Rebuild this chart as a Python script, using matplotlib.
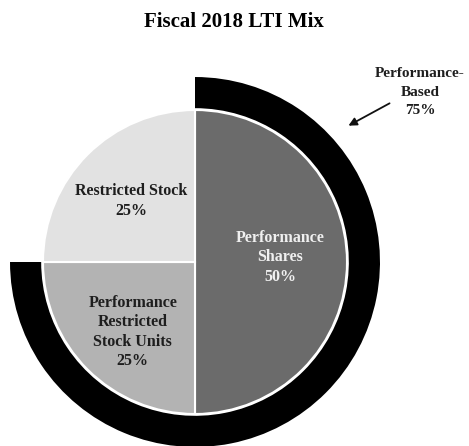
import matplotlib
matplotlib.use("Agg")
import matplotlib.pyplot as plt

# slices, clockwise from 12 o'clock
labels = ["Performance\nShares\n50%", "Performance\nRestricted\nStock Units\n25%", "Restricted Stock\n25%"]
values = [50, 25, 25]
colors = ["#6b6b6b", "#b3b3b3", "#e2e2e2"]
label_colors = ["#f0f0f0", "#1e1e1e", "#1e1e1e"]

# outer ring: performance-based share vs the rest
ring_values = [75, 25]
ring_label = "Performance-\nBased\n75%"

SERIF = ["Liberation Serif", "DejaVu Serif"]
W, H = 469, 446
fig = plt.figure(figsize=(W / 100, H / 100), dpi=100)
ax = fig.add_axes([0, 0, 1, 1])

ax.pie(
    values,
    colors=colors,
    startangle=90,
    counterclock=False,
    radius=1.0,
    wedgeprops=dict(edgecolor="white", linewidth=1.5),
)
ax.pie(
    ring_values,
    colors=["black", "none"],
    startangle=90,
    counterclock=False,
    radius=1.217,
    wedgeprops=dict(width=0.205, linewidth=0),
)

label_pos = [(0.56, 0.03), (-0.41, -0.46), (-0.42, 0.40)]
for txt, (x, y), c in zip(labels, label_pos, label_colors):
    ax.text(x, y, txt, ha="center", va="center", fontsize=11.5, fontweight="bold",
            color=c, linespacing=1.3, family=SERIF)

# pixel scale: center at (195, 262) from top-left, radius 152 px
cx, cy, r = 195, H - 262, 152
ax.set_xlim(-cx / r, (W - cx) / r)
ax.set_ylim(-cy / r, (H - cy) / r)
ax.set_aspect("equal")
ax.axis("off")

ax.annotate(
    "",
    xy=((346 - cx) / r, (H - 127 - cy) / r),
    xytext=((392 - cx) / r, (H - 102 - cy) / r),
    arrowprops=dict(arrowstyle="-|>", color="#111111", lw=1.3, mutation_scale=12),
)
ax.text((420 - cx) / r, (H - 92 - cy) / r, ring_label, ha="center", va="center",
        fontsize=11, fontweight="bold", color="#1e1e1e", linespacing=1.55,
        family=SERIF)

fig.text(234 / W, 1 - 22 / H, "Fiscal 2018 LTI Mix", ha="center", va="center",
         fontsize=15, fontweight="bold", family=SERIF)

fig.savefig("out.png", dpi=100)
